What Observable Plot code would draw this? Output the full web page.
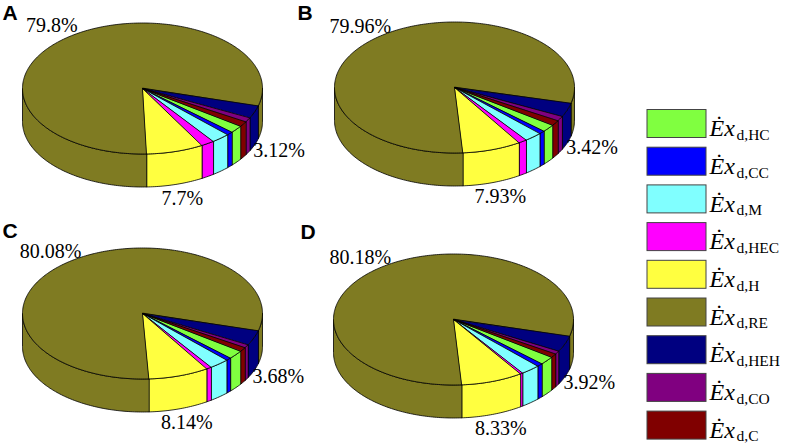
<!DOCTYPE html>
<html><head><meta charset="utf-8">
<script src="https://cdn.jsdelivr.net/npm/d3@7"></script>
<script src="https://cdn.jsdelivr.net/npm/@observablehq/plot@0.6"></script>
<style>body{margin:0;background:#fff}</style>
</head><body><div id="chart"></div>
<script>
// ---- data ----
const names = ["HC", "CC", "M", "HEC", "H", "RE", "HEH", "CO", "C"];
const colors = ["#80ff40", "#0000ff", "#80ffff", "#ff00ff", "#ffff40", "#7f7b22", "#000080", "#800080", "#800000"];
const panels = ["A", "B", "C", "D"];
const shareA = [1.9, 0.85, 2.5, 1.8, 7.7, 79.8, 3.12, 1.1, 1.23];
const shareB = [1.9, 0.8, 2.4, 1.15, 7.93, 79.96, 3.42, 1.19, 1.25];
const shareC = [2.2, 0.7, 2.7, 0.7, 8.14, 80.08, 3.68, 0.8, 1.0];
const shareD = [2.1, 0.8, 2.62, 0.35, 8.33, 80.18, 3.92, 0.8, 0.9];
const labeled = ["RE", "H", "HEH"];
const shares = [shareA, shareB, shareC, shareD];

// ---- layout ----
const W = 789, H = 447;
const rx = 120, ry = 65.5, depth = 33, startDeg = 35, labelR = 1.22;
const centers = [[142, 88], [454, 87], [142, 313], [453, 319]];
const letterPos = [[2, 13], [297, 13], [2, 231], [300, 232]];
const legendX = 647, legendTop = 109.5, legendStep = 37.7;
const rad = Math.PI / 180;

const wallPts = [], topPts = [], labels = [];
shares.forEach((vals, p) => {
  const [cx, cy] = centers[p];
  const P = (t, r = 1, dz = 0) => ({x: cx + r * rx * Math.cos(t * rad), y: cy + r * ry * Math.sin(t * rad) + dz});
  let a = startDeg;
  vals.forEach((v, i) => {
    const name = names[i];
    const t1 = a, t2 = a + v * 3.6;
    a = t2;
    const id = p + "-" + i;
    // top face
    topPts.push({id, name, ...P(0, 0)});
    const n = Math.max(2, Math.ceil(t2 - t1));
    for (let k = 0; k <= n; k++) topPts.push({id, name, ...P(t1 + (t2 - t1) * k / n)});
    // visible side wall (front half)
    [[0, 180], [360, 540]].forEach(([lo, hi], j) => {
      const a1 = Math.max(t1, lo), a2 = Math.min(t2, hi);
      if (a2 > a1) {
        const wid = id + "-" + j;
        const m = Math.max(2, Math.ceil(a2 - a1));
        for (let k = 0; k <= m; k++) wallPts.push({id: wid, name, ...P(a1 + (a2 - a1) * k / m)});
        for (let k = m; k >= 0; k--) wallPts.push({id: wid, name, ...P(a1 + (a2 - a1) * k / m, 1, depth)});
      }
    });
    if (labeled.includes(name)) {
      const mid = (t1 + t2) / 2;
      const s = Math.sin(mid * rad);
      const q = P(mid, labelR, s > 0 ? depth : 0);
      labels.push({...q, text: v + "%"});
    }
  });
});

const letters = panels.map((t, i) => ({text: t, x: letterPos[i][0], y: letterPos[i][1]}));
const legend = names.map((name, i) => ({name, y1: legendTop + i * legendStep, y2: legendTop + i * legendStep + 28}));

const chart = Plot.plot({
  width: W, height: H, margin: 0,
  x: {domain: [0, W], range: [0, W], axis: null},
  y: {domain: [0, H], range: [0, H], axis: null},
  color: {domain: names, range: colors},
  style: {background: "white"},
  marks: [
    Plot.line(wallPts, {x: "x", y: "y", z: "id", fill: "name", stroke: "black", strokeWidth: 0.8, curve: "linear-closed"}),
    Plot.line(topPts, {x: "x", y: "y", z: "id", fill: "name", stroke: "black", strokeWidth: 0.8, curve: "linear-closed"}),
    Plot.text(labels, {x: "x", y: "y", text: "text", fontFamily: "Liberation Serif", fontSize: 20, fill: "black"}),
    Plot.text(letters, {x: "x", y: "y", text: "text", fontFamily: "Liberation Sans", fontWeight: "bold", fontSize: 21, textAnchor: "start", fill: "black"}),
    Plot.rect(legend, {x1: legendX, x2: legendX + 59, y1: "y1", y2: "y2", fill: "name", stroke: "#444", strokeWidth: 1}),
    Plot.text(legend, {x: legendX + 62, y: d => d.y1 + 26.2, text: () => "Ėx", fontFamily: "Liberation Serif", fontStyle: "italic", fontSize: 24, textAnchor: "start", lineAnchor: "bottom", fill: "black"}),
    Plot.text(legend, {x: legendX + 89, y: d => d.y1 + 29.8, text: d => "d," + d.name, fontFamily: "Liberation Serif", fontSize: 15.5, textAnchor: "start", lineAnchor: "bottom", fill: "black"})
  ]
});
document.getElementById("chart").appendChild(chart);
</script>
</body></html>
